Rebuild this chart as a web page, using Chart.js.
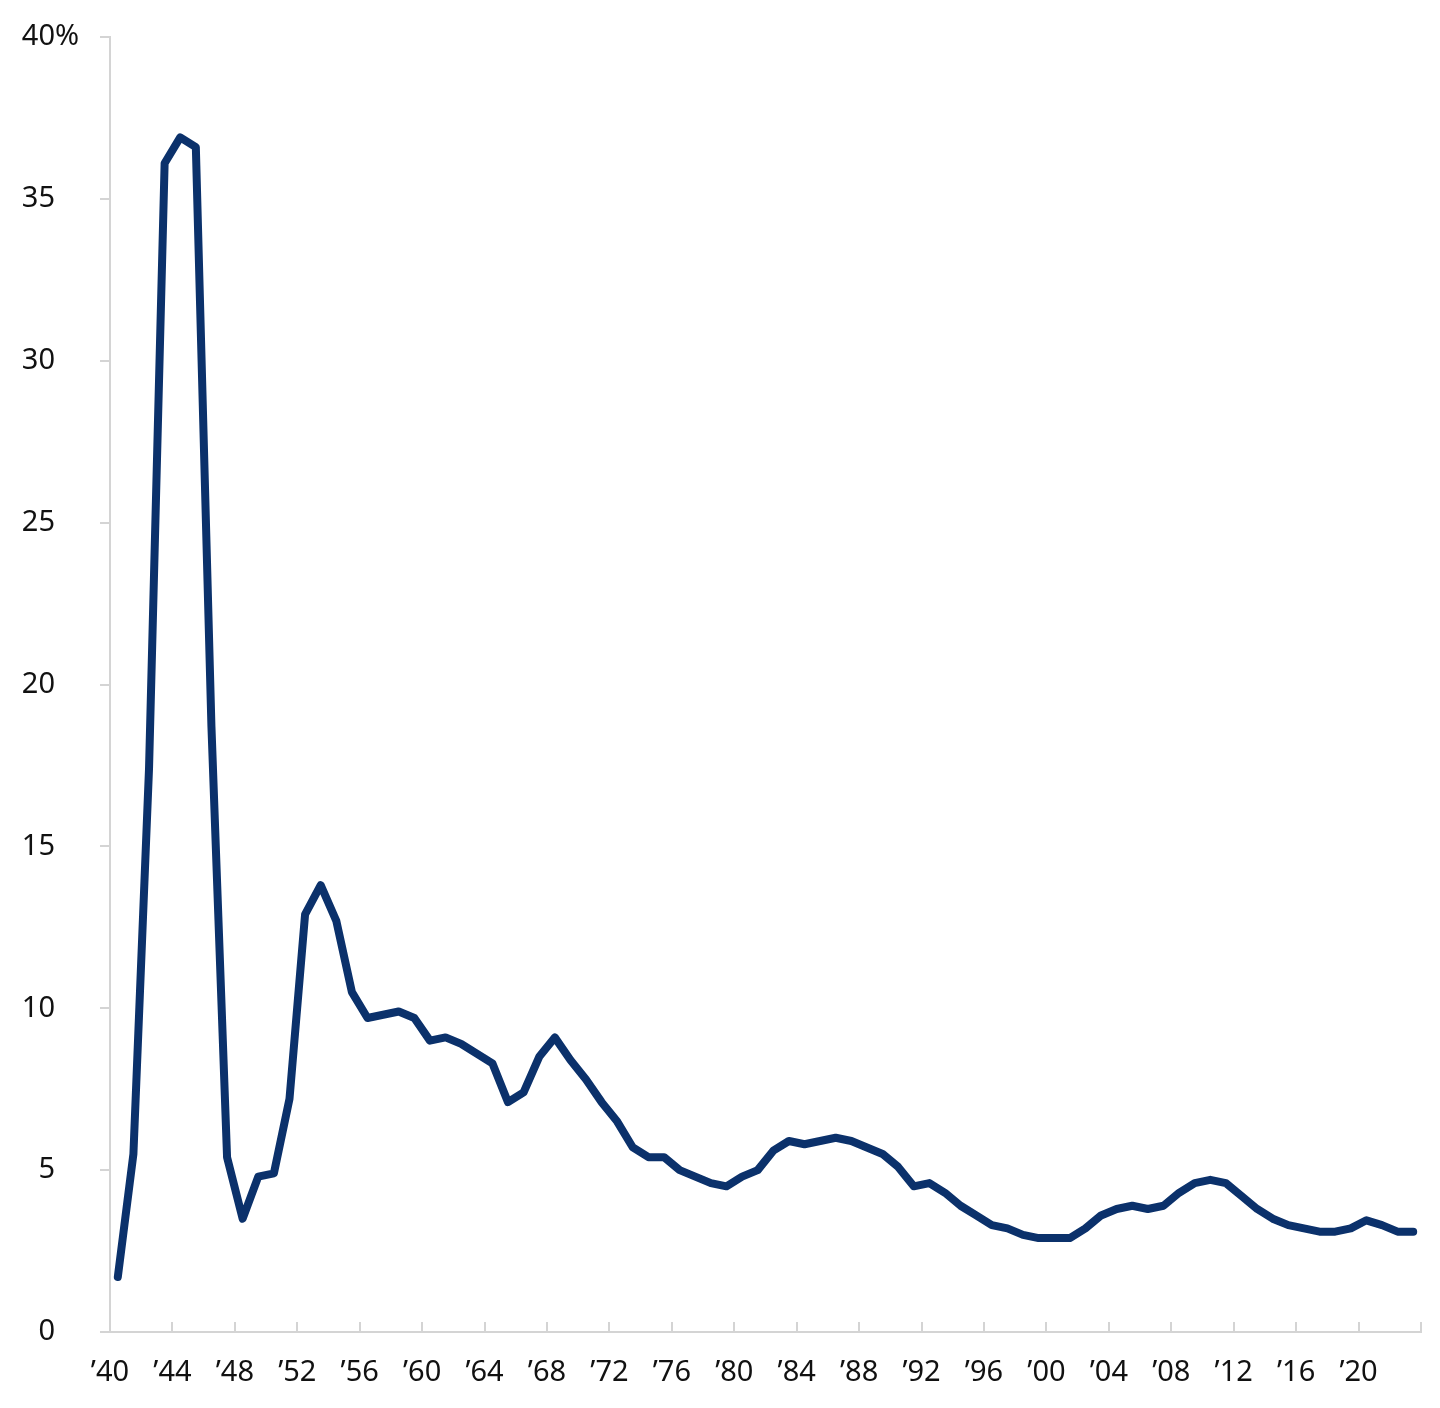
<!DOCTYPE html>
<html>
<head>
<meta charset="utf-8">
<script src="https://cdn.jsdelivr.net/npm/chart.js@4"></script>
<style>
  html, body { margin: 0; padding: 0; background: #fff; }
  #wrap { width: 1440px; height: 1408px; }
</style>
</head>
<body>
<div id="wrap"><canvas id="defenseChart" width="1440" height="1408"></canvas></div>
<script>
// years shown, one point per year
const years = [];
for (let y = 1940; y <= 2023; y++) years.push(y);

// defense outlays, % of GDP
const shareOfGdp = [
    1.7, 5.5, 17.4, 36.1, 36.9, 36.6, 18.7, 5.4, 3.5, 4.8,
    4.9, 7.2, 12.9, 13.8, 12.7, 10.5, 9.7, 9.8, 9.9, 9.7,
    9.0, 9.1, 8.9, 8.6, 8.3, 7.1, 7.4, 8.5, 9.1, 8.4,
    7.8, 7.1, 6.5, 5.7, 5.4, 5.4, 5.0, 4.8, 4.6, 4.5,
    4.8, 5.0, 5.6, 5.9, 5.8, 5.9, 6.0, 5.9, 5.7, 5.5,
    5.1, 4.5, 4.6, 4.3, 3.9, 3.6, 3.3, 3.2, 3.0, 2.9,
    2.9, 2.9, 3.2, 3.6, 3.8, 3.9, 3.8, 3.9, 4.3, 4.6,
    4.7, 4.6, 4.2, 3.8, 3.5, 3.3, 3.2, 3.1, 3.1, 3.2,
    3.45, 3.3, 3.1, 3.1
];

// x tick marks sit on the boundary before each labelled year
const xTickYears = [1940, 1944, 1948, 1952, 1956, 1960, 1964, 1968, 1972, 1976, 1980,
    1984, 1988, 1992, 1996, 2000, 2004, 2008, 2012, 2016, 2020, 2024];
const yTicks = [0, 5, 10, 15, 20, 25, 30, 35, 40];

const FONT = '"Noto Sans", "Open Sans", sans-serif';
const FONT_SIZE = 29;
const AXIS_GREY = '#d4d4d4';
const NAVY = '#0b316b';

const percentSign = {
    id: 'percentSign',
    afterDraw(chart) {
        const y = chart.scales.y;
        const ctx = chart.ctx;
        ctx.save();
        ctx.font = FONT_SIZE + 'px ' + FONT;
        ctx.fillStyle = '#111';
        ctx.textAlign = 'left';
        ctx.textBaseline = 'middle';
        ctx.fillText('%', y.right - 10 - 45, y.getPixelForValue(40));
        ctx.restore();
    }
};

const ctx = document.getElementById('defenseChart').getContext('2d');
new Chart(ctx, {
    type: 'line',
    data: {
        datasets: [{
            data: years.map((yr, i) => ({ x: yr, y: shareOfGdp[i] })),
            borderColor: NAVY,
            borderWidth: 8,
            borderCapStyle: 'round',
            borderJoinStyle: 'round',
            pointRadius: 0,
            tension: 0,
            fill: false
        }]
    },
    options: {
        responsive: false,
        animation: false,
        layout: { padding: { top: 37, right: 19, left: 0, bottom: 0 } },
        plugins: {
            legend: { display: false },
            tooltip: { enabled: false }
        },
        scales: {
            x: {
                type: 'linear',
                min: 1939.5,
                max: 2023.5,
                afterBuildTicks(scale) {
                    scale.ticks = xTickYears.map(v => ({ value: v - 0.5 }));
                },
                afterFit(scale) {
                    scale.height = 76;
                    scale.paddingLeft = 0;
                    scale.paddingRight = 0;
                },
                border: { display: true, color: AXIS_GREY, width: 2 },
                grid: {
                    drawOnChartArea: false,
                    drawTicks: true,
                    tickLength: -10,
                    color: AXIS_GREY,
                    lineWidth: 2
                },
                ticks: {
                    autoSkip: false,
                    maxRotation: 0,
                    padding: 33,
                    color: '#111',
                    font: { family: FONT, size: FONT_SIZE },
                    callback: function (value) {
                        const yr = Math.round(value + 0.5);
                        if (yr > 2020) return '';
                        return '\u2019' + String(yr).slice(2);
                    }
                }
            },
            y: {
                min: 0,
                max: 40,
                afterBuildTicks(scale) {
                    scale.ticks = yTicks.map(v => ({ value: v }));
                },
                afterFit(scale) {
                    scale.width = 110;
                    scale.paddingTop = 0;
                    scale.paddingBottom = 0;
                },
                border: { display: true, color: AXIS_GREY, width: 2 },
                grid: {
                    drawOnChartArea: false,
                    drawTicks: true,
                    tickLength: 10,
                    color: AXIS_GREY,
                    lineWidth: 2
                },
                ticks: {
                    padding: 45,
                    color: '#111',
                    font: { family: FONT, size: FONT_SIZE },
                    callback: v => String(v)
                }
            }
        }
    },
    plugins: [percentSign]
});
</script>
</body>
</html>
